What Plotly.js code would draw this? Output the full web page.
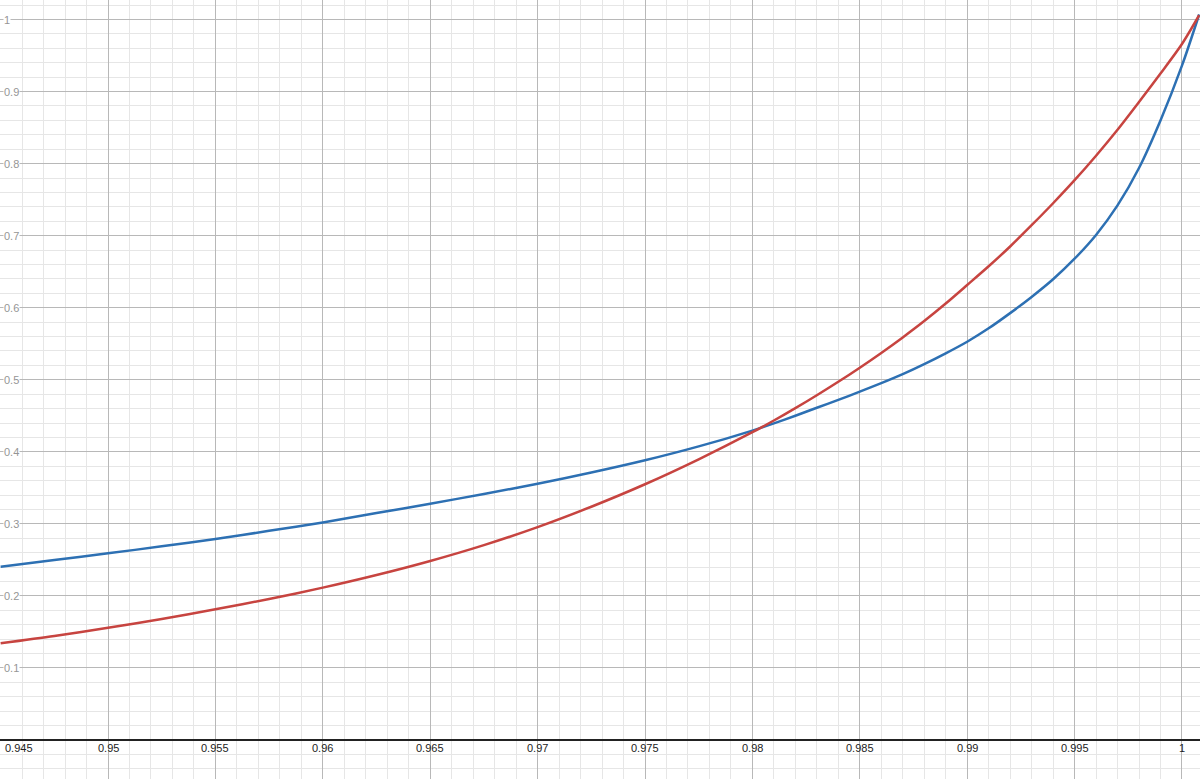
<!DOCTYPE html>
<html>
<head>
<meta charset="utf-8">
<script src="https://cdn.plot.ly/plotly-3.0.1.min.js"></script>
<style>
  html, body { margin: 0; padding: 0; background: #fff; }
  #chart { width: 1200px; height: 779px; }
</style>
</head>
<body>
<div id="chart"></div>
<script>
// sample points (coarser on the flat part, finer where they bend)
var xs = [0.945, 0.9475, 0.95, 0.9525, 0.955, 0.9575, 0.96, 0.9625, 0.965, 0.9675,
          0.97, 0.9725, 0.975, 0.9775, 0.98, 0.981, 0.982, 0.983, 0.984, 0.985,
          0.986, 0.987, 0.988, 0.989, 0.99, 0.991, 0.992, 0.993, 0.994, 0.995,
          0.996, 0.997, 0.998, 0.999, 1.0, 1.0008];

var blueY = [0.2405, 0.2498, 0.2591, 0.2688, 0.279, 0.2903, 0.302, 0.315, 0.328, 0.3415,
             0.3557, 0.3712, 0.3882, 0.4075, 0.4295, 0.4395, 0.4501, 0.4612, 0.4721, 0.4835,
             0.4953, 0.5078, 0.5217, 0.5367, 0.5528, 0.5714, 0.5925, 0.6150, 0.6395, 0.668,
             0.701, 0.742, 0.794, 0.860, 0.936, 1.007];

var redY = [0.1342, 0.1443, 0.1559, 0.1679, 0.1814, 0.1957, 0.2115, 0.229, 0.2485, 0.2705,
            0.2955, 0.3238, 0.355, 0.3896, 0.4272, 0.4435, 0.4606, 0.4785, 0.4972, 0.5168,
            0.5373, 0.5588, 0.5815, 0.6058, 0.6315, 0.6575, 0.685, 0.7145, 0.745, 0.777,
            0.811, 0.847, 0.8855, 0.925, 0.966, 1.006];

var xTickVals = [0.945, 0.95, 0.955, 0.96, 0.965, 0.97, 0.975, 0.98, 0.985, 0.99, 0.995, 1];
var xTickText = ['0.945', '0.95', '0.955', '0.96', '0.965', '0.97', '0.975', '0.98', '0.985', '0.99', '0.995', '1'];
var yTickVals = [0.1, 0.2, 0.3, 0.4, 0.5, 0.6, 0.7, 0.8, 0.9, 1];
var yTickText = ['0.1', '0.2', '0.3', '0.4', '0.5', '0.6', '0.7', '0.8', '0.9', '1'];

var blue = {
    x: xs, y: blueY, type: 'scatter', mode: 'lines',
    line: { color: '#2d70b3', width: 2.5, shape: 'spline', smoothing: 0.8 },
    hoverinfo: 'skip'
};
var red = {
    x: xs, y: redY, type: 'scatter', mode: 'lines',
    line: { color: '#c74440', width: 2.5, shape: 'spline', smoothing: 0.8 },
    hoverinfo: 'skip'
};

var annotations = [];
xTickVals.forEach(function (v, i) {
    annotations.push({
        x: v, y: 0, xref: 'x', yref: 'y',
        text: xTickText[i], showarrow: false,
        xanchor: i === 0 ? 'left' : 'center', yanchor: 'middle',
        xshift: i === 0 ? 2 : 0, yshift: -8,
        font: { family: 'Liberation Sans, Arial, sans-serif', size: 11, color: '#222' }
    });
});
yTickVals.forEach(function (v, i) {
    annotations.push({
        x: 0, y: v, xref: 'paper', yref: 'y',
        text: yTickText[i], showarrow: false,
        xanchor: 'left', yanchor: 'middle', xshift: 3,
        bgcolor: '#ffffff', borderpad: 0,
        font: { family: 'Liberation Sans, Arial, sans-serif', size: 11, color: '#959595' }
    });
});

var layout = {
    width: 1200,
    height: 779,
    margin: { l: 0, r: 0, t: 0, b: 0 },
    paper_bgcolor: '#ffffff',
    plot_bgcolor: '#ffffff',
    showlegend: false,
    xaxis: {
        range: [0.94497, 1.00084],
        dtick: 0.005, tick0: 0,
        showgrid: true, gridcolor: '#b8b8b8', gridwidth: 1,
        minor: { dtick: 0.001, tick0: 0, showgrid: true, gridcolor: '#e6e6e6', gridwidth: 1 },
        showticklabels: false, ticks: '',
        zeroline: false, showline: false
    },
    yaxis: {
        range: [-0.0541, 1.0271],
        dtick: 0.1, tick0: 0,
        showgrid: true, gridcolor: '#b8b8b8', gridwidth: 1,
        minor: { dtick: 0.02, tick0: 0, showgrid: true, gridcolor: '#e6e6e6', gridwidth: 1 },
        showticklabels: false, ticks: '',
        zeroline: true, zerolinecolor: '#222222', zerolinewidth: 1.5,
        showline: false
    },
    annotations: annotations
};

Plotly.newPlot('chart', [blue, red], layout, { staticPlot: true });
</script>
</body>
</html>
